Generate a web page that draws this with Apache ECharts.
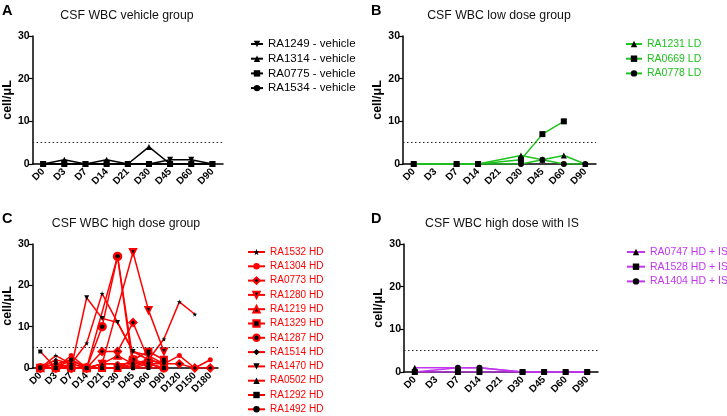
<!DOCTYPE html>
<html><head><meta charset="utf-8">
<script src="https://cdn.jsdelivr.net/npm/echarts@6/dist/echarts.min.js"></script>
<style>html,body{margin:0;padding:0;background:#fff}#c{width:727px;height:416px}</style>
</head><body><div id="c"></div>
<script>
// ---------- DATA ----------
const catsShort = ['D0','D3','D7','D14','D21','D30','D45','D60','D90'];
const catsLong  = ['D0','D3','D7','D14','D21','D30','D45','D60','D90','D120','D150','D180'];
const yMin = 0, yMax = 30, yStep = 10;
const threshold = 5;

// Panel A: vehicle group
const vehNames = ['RA1249 - vehicle','RA1314 - vehicle','RA0775 - vehicle','RA1534 - vehicle'];
const veh_RA1249 = [0,0,0,0,0,0,1,1,0];
const veh_RA1314 = [0,1,0,1,0,4,0,0,0];
const veh_RA0775 = [0,0,0,0,0,0,0,0,0];
const veh_RA1534 = [0,0,0,0,0,0,0,0,0];

// Panel B: low dose group
const ldNames = ['RA1231 LD','RA0669 LD','RA0778 LD'];
const ld_RA1231 = [0,null,0,0,null,2,1,2,0];
const ld_RA0669 = [0,null,0,0,null,1,7,10,null];
const ld_RA0778 = [0,null,0,0,null,0,1,0,0];

// Panel C: high dose group
const hdNames = ['RA1532 HD','RA1304 HD','RA0773 HD','RA1280 HD','RA1219 HD','RA1329 HD','RA1287 HD','RA1514 HD','RA1470 HD','RA0502 HD','RA1292 HD','RA1492 HD'];
const hd_RA1532 = [0,3,1,6,18,null,4,2,7,16,13,null];
const hd_RA1304 = [0,0,3,0,1,1,0,2,1,3,0,2];
const hd_RA0773 = [0,0,0,0,4,4,11,2,1,1,0,0];
const hd_RA1280 = [0,0,0,0,1,null,28,14,4,null,null,null];
const hd_RA1219 = [0,1,2,0,1,3,1,2,1,null,null,null];
const hd_RA1329 = [0,0,0,0,0,0,2,4,2,null,null,null];
const hd_RA1287 = [0,0,0,0,10,27,2,1,0,null,null,null];
const hd_RA1514 = [0,2,1,0,null,27,0,1,1,null,null,null];
const hd_RA1470 = [0,1,0,17,12,11,4,3,1,null,null,null];
const hd_RA0502 = [0,0,1,0,1,1,1,1,0,null,null,null];
const hd_RA1292 = [4,0,2,0,0,0,0,0,0,null,null,null];
const hd_RA1492 = [0,1,0,0,0,0,1,1,0,null,null,null];

// Panel D: high dose with IS
const isNames = ['RA0747 HD + IS','RA1528 HD + IS','RA1404 HD + IS'];
const is_RA0747 = [1,null,1,1,null,0,0,0,0];
const is_RA1528 = [0,null,0,0,null,0,0,0,0];
const is_RA1404 = [0,null,1,1,null,0,0,0,0];

const titles = ['CSF WBC vehicle group','CSF WBC low dose group','CSF WBC high dose group','CSF WBC high dose with IS'];
const letters = ['A','B','C','D'];
const yName = 'cell/\u03bcL';

// ---------- STYLE ----------
const FONT = 'Liberation Sans, Arial, Helvetica, sans-serif';
const BLACK = '#000', GREEN = '#1ec31e', RED = '#ff0000', PURPLE = '#c236ee';
const STAR = 'path://M50,0 L61,35 L98,35 L68,57 L79,91 L50,70 L21,91 L32,57 L2,35 L39,35 Z';

const grids = [
  {left: 31, top: 36, width: 192, height: 128},
  {left: 403, top: 36, width: 193, height: 128},
  {left: 32, top: 244, width: 186, height: 124},
  {left: 404, top: 244, width: 194, height: 128}
];

function xAx(i, cats) {
  return {
    type: 'category', gridIndex: i, data: cats, boundaryGap: true,
    axisLine: {lineStyle: {color: BLACK, width: 1.5}},
    axisTick: {alignWithLabel: true, length: 3, lineStyle: {color: BLACK, width: 1.2}},
    axisLabel: {rotate: 45, color: BLACK, fontWeight: 'bold', fontSize: 10, fontFamily: FONT, margin: 6, interval: 0}
  };
}
function yAx(i) {
  return {
    type: 'value', gridIndex: i, min: yMin, max: yMax, interval: yStep,
    name: yName, nameLocation: 'middle', nameGap: 15, nameRotate: 90,
    nameTextStyle: {color: BLACK, fontWeight: 'bold', fontSize: 12.5, fontFamily: FONT},
    axisLine: {show: true, lineStyle: {color: BLACK, width: 1.5}},
    axisTick: {show: true, length: 4, lineStyle: {color: BLACK, width: 1.2}},
    axisLabel: {color: BLACK, fontWeight: 'bold', fontSize: 10.5, fontFamily: FONT, margin: 3},
    splitLine: {show: false}
  };
}
function ser(i, name, data, color, symbol, opts) {
  opts = opts || {};
  const s = {
    type: 'line', name: name, xAxisIndex: i, yAxisIndex: i, data: data,
    connectNulls: true, symbol: symbol, symbolSize: opts.size || 6,
    symbolRotate: opts.rotate || 0,
    lineStyle: {color: color, width: 1.5},
    itemStyle: {color: opts.fill || BLACK, borderColor: opts.border || opts.fill || BLACK, borderWidth: opts.bw || 0},
    emphasis: {disabled: true}, animation: false, z: opts.z || 2
  };
  if (opts.mark) {
    s.markLine = {silent: true, symbol: 'none', label: {show: false},
      lineStyle: {color: '#222', type: [1.5, 2.5], width: 1.2},
      data: [{yAxis: threshold}]};
  }
  return s;
}

const series = [
  ser(0, vehNames[0], veh_RA1249, BLACK, 'triangle', {rotate: 180, mark: true}),
  ser(0, vehNames[1], veh_RA1314, BLACK, 'triangle'),
  ser(0, vehNames[2], veh_RA0775, BLACK, 'rect'),
  ser(0, vehNames[3], veh_RA1534, BLACK, 'circle'),

  ser(1, ldNames[0], ld_RA1231, GREEN, 'triangle', {mark: true}),
  ser(1, ldNames[1], ld_RA0669, GREEN, 'rect'),
  ser(1, ldNames[2], ld_RA0778, GREEN, 'circle'),

  ser(2, hdNames[0], hd_RA1532, RED, STAR, {size: 5, mark: true, z: 4}),
  ser(2, hdNames[1], hd_RA1304, RED, 'circle', {size: 5, fill: RED}),
  ser(2, hdNames[2], hd_RA0773, RED, 'diamond', {size: 7, fill: BLACK, border: RED, bw: 2}),
  ser(2, hdNames[3], hd_RA1280, RED, 'triangle', {size: 6.5, rotate: 180, fill: BLACK, border: RED, bw: 1.8}),
  ser(2, hdNames[4], hd_RA1219, RED, 'triangle', {size: 6.5, fill: BLACK, border: RED, bw: 1.8}),
  ser(2, hdNames[5], hd_RA1329, RED, 'rect', {size: 6, fill: BLACK, border: RED, bw: 2}),
  ser(2, hdNames[6], hd_RA1287, RED, 'circle', {size: 7, fill: BLACK, border: RED, bw: 2.5}),
  ser(2, hdNames[7], hd_RA1514, RED, 'diamond', {size: 4, z: 4}),
  ser(2, hdNames[8], hd_RA1470, RED, 'triangle', {size: 5, rotate: 180, z: 4}),
  ser(2, hdNames[9], hd_RA0502, RED, 'triangle', {size: 4, z: 4}),
  ser(2, hdNames[10], hd_RA1292, RED, 'rect', {size: 4, z: 4}),
  ser(2, hdNames[11], hd_RA1492, RED, 'circle', {size: 4, z: 4}),

  ser(3, isNames[0], is_RA0747, PURPLE, 'triangle', {mark: true}),
  ser(3, isNames[1], is_RA1528, PURPLE, 'rect'),
  ser(3, isNames[2], is_RA1404, PURPLE, 'circle')
];

function leg(names, color, left, top, itemWidth, gap, fs) {
  return {
    orient: 'vertical', left: left, top: top, itemWidth: itemWidth, itemHeight: 8, itemGap: gap,
    selectedMode: false, padding: 0,
    textStyle: {color: color, fontSize: fs, fontFamily: FONT, lineHeight: 12},
    data: names.map(n => ({name: n}))
  };
}

const titleArr = [];
const tPos = [[127, 10], [499, 10], [126, 218], [502, 218]];
const lPos = [[2, 3], [371, 3], [2, 211], [371, 211]];
for (let i = 0; i < 4; i++) {
  titleArr.push({text: titles[i], left: tPos[i][0], top: tPos[i][1], textAlign: 'center', padding: 0,
    textStyle: {color: '#111', fontSize: 12.3, fontWeight: 'normal', fontFamily: FONT}});
  titleArr.push({text: letters[i], left: lPos[i][0], top: lPos[i][1], padding: 0,
    textStyle: {color: '#000', fontSize: 14.5, fontWeight: 'bold', fontFamily: FONT}});
}

const chart = echarts.init(document.getElementById('c'), null, {renderer: 'canvas'});
chart.setOption({
  backgroundColor: '#fff',
  animation: false,
  title: titleArr,
  grid: grids,
  xAxis: [xAx(0, catsShort), xAx(1, catsShort), xAx(2, catsLong), xAx(3, catsShort)],
  yAxis: [yAx(0), yAx(1), yAx(2), yAx(3)],
  legend: [
    leg(vehNames, BLACK, 250, 38, 12, 2.7, 11.5),
    leg(ldNames, GREEN, 625, 38, 16, 2.7, 10.5),
    leg(hdNames, RED, 247, 246, 17, 2.3, 10),
    leg(isNames, PURPLE, 626, 246, 18, 2.7, 10.5)
  ],
  series: series
});
</script>
</body></html>
